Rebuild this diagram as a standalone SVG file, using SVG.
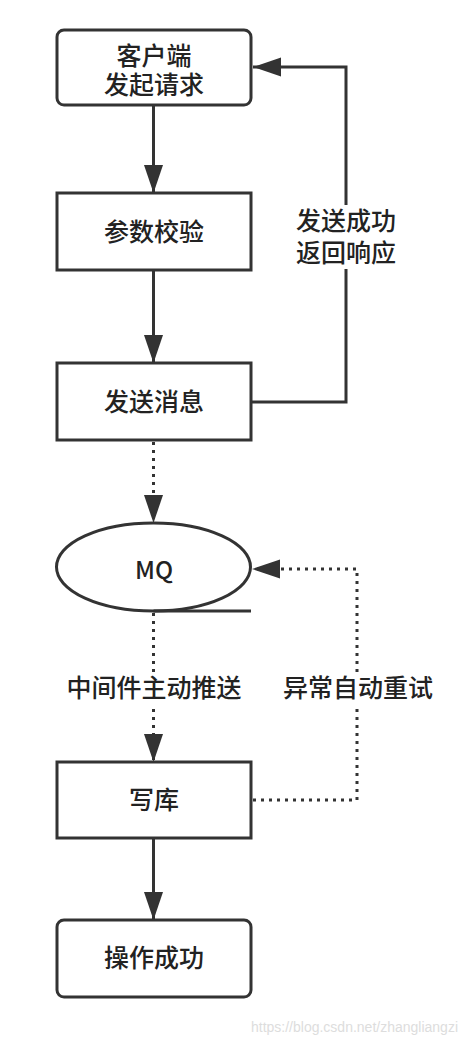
<svg xmlns="http://www.w3.org/2000/svg" width="466" height="1044" viewBox="0 0 466 1044">
<style>
.box{fill:#fff;stroke:#333;stroke-width:3}
.t{font-family:"Noto Sans CJK SC","Noto Sans",sans-serif;font-size:25px;font-weight:500;fill:#222;text-anchor:middle}
.ln{fill:none;stroke:#333;stroke-width:3}
.dot{fill:none;stroke:#333;stroke-width:3;stroke-dasharray:3 5}
.bg{fill:#fff}
</style>
<defs>
<marker id="ah" markerUnits="userSpaceOnUse" markerWidth="30" markerHeight="20" refX="28" refY="9.5" orient="auto">
<path d="M0,0 L28,9.5 L0,19 z" fill="#333"/>
</marker>
</defs>
<rect width="466" height="1044" fill="#fff"/>
<g id="connectors">
<line class="ln" x1="153.5" y1="105" x2="153.5" y2="193" marker-end="url(#ah)"/>
<line class="ln" x1="153.5" y1="270" x2="153.5" y2="363" marker-end="url(#ah)"/>
<polyline class="ln" points="251,402 346,402 346,67 253,67" marker-end="url(#ah)"/>
<line class="dot" x1="153.5" y1="442" x2="153.5" y2="523" marker-end="url(#ah)"/>
<line class="dot" x1="153.5" y1="613" x2="153.5" y2="762" marker-end="url(#ah)"/>
<polyline class="dot" points="253,800 357,800 357,569 252,569" marker-end="url(#ah)"/>
<line class="ln" x1="153.5" y1="838" x2="153.5" y2="920" marker-end="url(#ah)"/>
</g>
<g id="labels">
<rect class="bg" x="290" y="205" width="112" height="64"/>
<text class="t" x="346" y="230">发送成功</text>
<text class="t" x="346" y="262">返回响应</text>
<rect class="bg" x="60" y="672" width="188" height="32"/>
<text class="t" x="154" y="697">中间件主动推送</text>
<rect class="bg" x="278" y="672" width="162" height="32"/>
<text class="t" x="358" y="697">异常自动重试</text>
</g>
<g id="n1">
<rect class="box" x="57" y="30" width="194" height="75" rx="7"/>
<text class="t" x="154" y="65">客户端</text>
<text class="t" x="154" y="94">发起请求</text>
</g>
<g id="n2">
<rect class="box" x="57" y="193" width="194" height="77"/>
<text class="t" x="154" y="241">参数校验</text>
</g>
<g id="n3">
<rect class="box" x="57" y="363" width="194" height="77"/>
<text class="t" x="154" y="411">发送消息</text>
</g>
<g id="mq">
<ellipse class="box" cx="153.5" cy="567" rx="97" ry="44"/>
<line class="ln" x1="153.5" y1="611" x2="251" y2="611"/>
<text class="t" x="154" y="579" style="font-size:24px">MQ</text>
</g>
<g id="n4">
<rect class="box" x="57" y="762" width="194" height="76"/>
<text class="t" x="154" y="809">写库</text>
</g>
<g id="n5">
<rect class="box" x="57" y="920" width="194" height="77" rx="7"/>
<text class="t" x="154" y="967">操作成功</text>
</g>
<text x="458" y="1032" style="font-family:'Liberation Sans',Arial,sans-serif;font-size:14px;fill:#ddd;text-anchor:end">https://blog.csdn.net/zhangliangzi</text>
</svg>
